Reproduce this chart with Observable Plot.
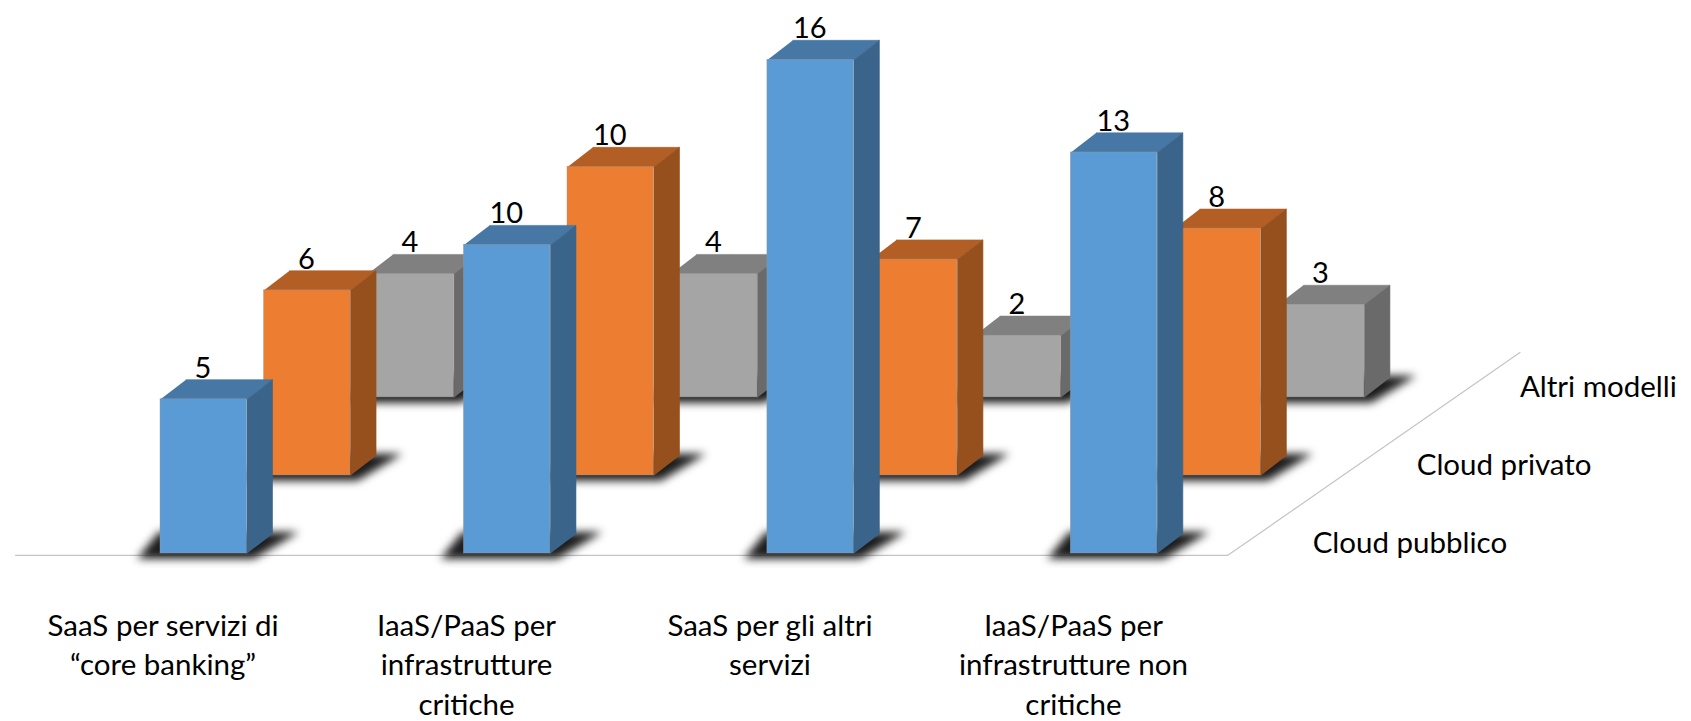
<!DOCTYPE html>
<html lang="it">
<head>
<meta charset="utf-8">
<style>html,body{margin:0;padding:0;background:#fff;overflow:hidden}svg{display:block}</style>
<script src="https://cdn.jsdelivr.net/npm/d3@7"></script>
<script src="https://cdn.jsdelivr.net/npm/@observablehq/plot@0.6"></script>
</head>
<body>
<script>
const categories = ["SaaS per servizi di\n“core banking”", "IaaS/PaaS per\ninfrastrutture\ncritiche", "SaaS per gli altri\nservizi", "IaaS/PaaS per\ninfrastrutture non\ncritiche"];
const seriesNames = ["Cloud pubblico", "Cloud privato", "Altri modelli"];
const cloudPubblico = [5, 10, 16, 13];
const cloudPrivato = [6, 10, 7, 8];
const altriModelli = [4, 4, 2, 3];
const seriesValues = [cloudPubblico, cloudPrivato, altriModelli];
const frontColors = ["#5B9BD5", "#ED7D31", "#A5A5A5"];
const topColors = ["#4677A5", "#B25E24", "#808080"];
const sideColors = ["#3A6489", "#95501D", "#6A6A6A"];

// Oblique projection: x in bar widths, y in value units
const W = 1691, H = 721;
const pxX = 86.5, pxY = 30.85, x0 = 160, y0 = 553;
const catStep = 3.508, depthX = 1.197, depthY = 2.53, sideX = 0.295, sideY = 0.635;
const px = (i, d, u) => i * catStep + d * depthX + u;
const py = (d, v) => v + d * depthY;

const font = "Lato, Carlito, sans-serif";
const marks = [];

const poly = (rows, fill, opts = {}) => Plot.line(rows, {x: "x", y: "y", z: "k", fill, stroke: fill, strokeWidth: 0.6, curve: "linear", ...opts});

// floor
const floorV = -0.06;
marks.push(Plot.line([
  {x: px(0, 0, -1.676), y: py(0, floorV)},
  {x: px(3, 0, 1.815), y: py(0, floorV)},
  {x: px(3, 2.6, 2.08), y: py(2.6, floorV)}
], {x: "x", y: "y", stroke: "#C4C4C4", strokeWidth: 1.2}));

// bars, back to front
for (let d = seriesValues.length - 1; d >= 0; d--) {
  const vals = seriesValues[d];
  const bars = vals.map((v, i) => ({i, v}));
  const shadow = bars.flatMap(({i}) => [
    {k: i, x: px(i, d, -0.27), y: py(d, -0.17)},
    {k: i, x: px(i, d, 1.08), y: py(d, -0.17)},
    {k: i, x: px(i, d, 1.6), y: py(d, 0.7)},
    {k: i, x: px(i, d, -0.02), y: py(d, 0.7)}
  ]);
  const top = bars.flatMap(({i, v}) => [
    {k: i, x: px(i, d, 0), y: py(d, v)},
    {k: i, x: px(i, d, 1), y: py(d, v)},
    {k: i, x: px(i, d, 1 + sideX), y: py(d, v + sideY)},
    {k: i, x: px(i, d, sideX), y: py(d, v + sideY)}
  ]);
  const side = bars.flatMap(({i, v}) => [
    {k: i, x: px(i, d, 1), y: py(d, 0)},
    {k: i, x: px(i, d, 1), y: py(d, v)},
    {k: i, x: px(i, d, 1 + sideX), y: py(d, v + sideY)},
    {k: i, x: px(i, d, 1 + sideX), y: py(d, sideY)}
  ]);
  marks.push(poly(shadow, "#1c1c1c", {strokeWidth: 0, imageFilter: "blur(4.5px)"}));
  marks.push(poly(top, topColors[d]));
  marks.push(poly(side, sideColors[d]));
  marks.push(Plot.rect(bars, {
    x1: b => px(b.i, d, 0), x2: b => px(b.i, d, 1),
    y1: () => py(d, 0), y2: b => py(d, b.v),
    fill: frontColors[d], stroke: "#9a9a9a", strokeOpacity: 0.6, strokeWidth: 0.7
  }));
  marks.push(Plot.text(bars, {
    x: b => px(b.i, d, 0.49), y: b => py(d, b.v + sideY),
    text: b => String(b.v), lineAnchor: "bottom", dy: -2,
    fontSize: 29, fontFamily: font, fill: "#000"
  }));
}

// category labels
marks.push(Plot.text(categories, {
  x: (c, i) => px(i, 0, 0.03), y: () => py(0, -1.75),
  text: c => c, lineAnchor: "top", lineHeight: 1.34, textAnchor: "middle",
  fontSize: 29.5, fontFamily: font, fill: "#000"
}));

// series labels
marks.push(Plot.text(seriesNames, {
  x: (s, d) => px(3, d * 0.91, 3.92), y: (s, d) => py(d, 0.31),
  text: s => s, textAnchor: "middle",
  fontSize: 29.5, fontFamily: font, fill: "#000"
}));

const chart = Plot.plot({
  width: W, height: H,
  marginTop: 0, marginRight: 0, marginBottom: 0, marginLeft: 0,
  style: {background: "#fff", overflow: "visible"},
  x: {axis: null, domain: [-x0 / pxX, (W - x0) / pxX], range: [0, W]},
  y: {axis: null, domain: [-(H - y0) / pxY, y0 / pxY], range: [H, 0]},
  marks
});
document.body.appendChild(chart);
</script>
</body>
</html>
